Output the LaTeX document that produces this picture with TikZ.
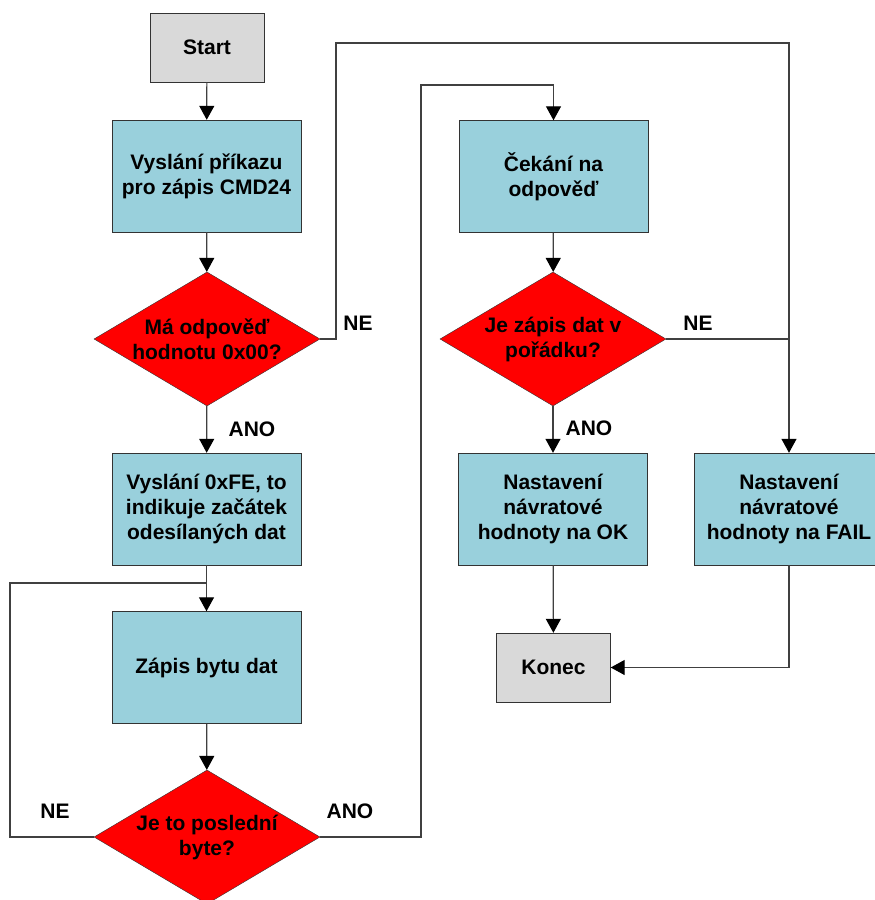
\documentclass[tikz,border=0pt]{standalone}
\usepackage{fontspec}
\setmainfont{Liberation Sans}
\usepackage{xcolor}
\usetikzlibrary{arrows.meta,shapes.geometric}

\definecolor{procblue}{RGB}{153,208,220}
\definecolor{termgray}{RGB}{217,217,217}
\definecolor{wiregray}{RGB}{64,64,64}

\begin{document}
\begin{tikzpicture}[x=1pt, y=-1pt,
  every node/.style={font=\bfseries\fontsize{21}{25}\selectfont},
  termbox/.style={draw=black!80, fill=termgray, minimum width=114pt, minimum height=69pt, inner sep=0pt},
  procbox/.style={draw=black!80, fill=procblue, minimum width=189pt, minimum height=112pt, inner sep=0pt, align=center},
  decision/.style={diamond, draw=black!80, fill=red, aspect=1.69, inner sep=0pt, minimum width=226pt, minimum height=134pt, align=center},
  line/.style={draw=wiregray, line width=1.2pt},
  arr/.style={line, -{Triangle[length=14pt,width=15pt,color=black]}},
  answer/.style={text=black}]

\useasboundingbox (0,0) rectangle (875,900);

% left column
\node[termbox] (start) at (207,47.5) {Start};
\node[procbox] (cmd) at (206.5,176) {Vyslání příkazu\\pro zápis CMD24};
\node[decision] (resp) at (207,339) {Má odpověď\\hodnotu 0x00?};
\node[procbox] (token) at (206.5,509) {Vyslání 0xFE, to\\indikuje začátek\\odesílaných dat};
\node[procbox] (byte) at (206.5,667.5) {Zápis bytu dat};
\node[decision] (last) at (207,837) {Je to poslední\\byte?};

% right part
\node[procbox] (wait) at (553.5,176.5) {Čekání na\\odpověď};
\node[decision] (check) at (553,339) {Je zápis dat v\\pořádku?};
\node[procbox] (ok) at (553,509) {Nastavení\\návratové\\hodnoty na OK};
\node[procbox] (fail) at (789,509) {Nastavení\\návratové\\hodnoty na FAIL};
\node[termbox] (stop) at (553.5,667.5) {Konec};

% branch labels
\node[answer] (respNo) at (358,323) {NE};
\node[answer] (respYes) at (252,429) {ANO};
\node[answer] (checkNo) at (698,323) {NE};
\node[answer] (checkYes) at (589,428) {ANO};
\node[answer] (lastNo) at (55,811) {NE};
\node[answer] (lastYes) at (350,811) {ANO};

% straight arrows
\draw[arr] (start) -- (cmd);
\draw[arr] (cmd) -- (resp);
\draw[arr] (resp) -- (token);
\coordinate (join) at (206.5,583);
\draw[arr] (token) -- (byte);
\draw[arr] (byte) -- (last);
\draw[arr] (wait) -- (check);
\draw[arr] (check) -- (ok);
\draw[arr] (ok) -- (stop);

% loops and side branches
\draw[line] (last.west) -| (10,583) -- (join);
\draw[arr] (last.east) -| (421,85) -| (wait.north);
\draw[arr] (resp.east) -| (336,43) -| (fail.north);
\draw[line] (check.east) -- (check.east -| fail.north);
\draw[arr] (fail.south) |- (stop.east);

\end{tikzpicture}
\end{document}
